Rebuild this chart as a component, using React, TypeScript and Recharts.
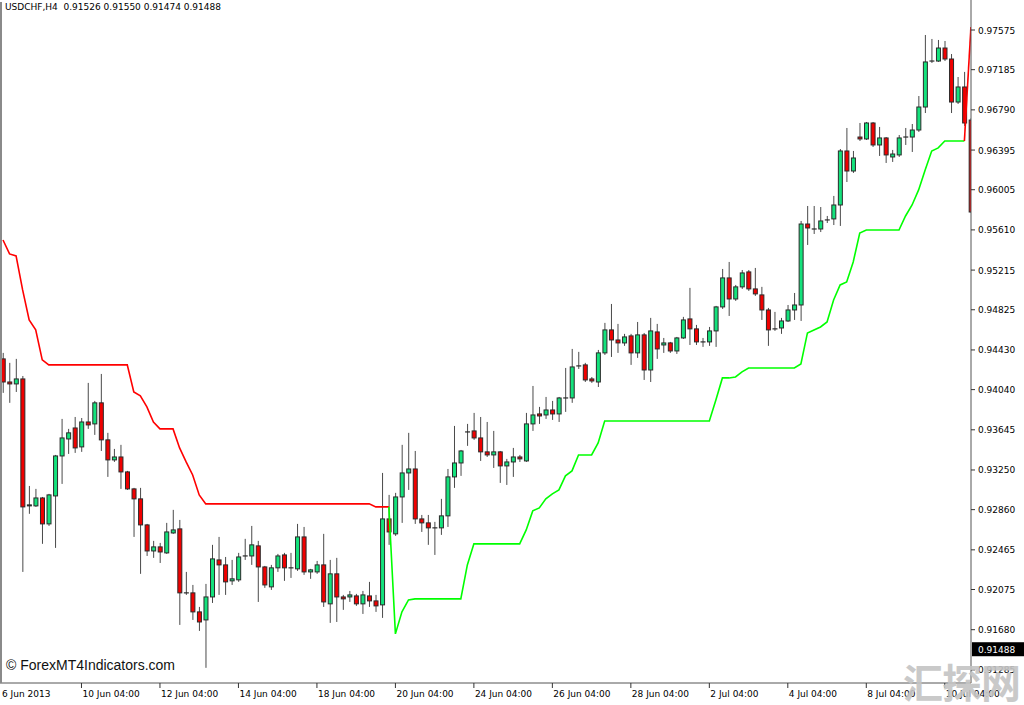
import React from 'react';
import { ComposedChart, Bar, Line, XAxis, YAxis, ReferenceLine } from 'recharts';

// ---- Data (USDCHF, H4) ----
const opens = [
  0.94342, 0.94115, 0.94096, 0.94145, 0.92897, 0.92897, 0.92975, 0.92720, 0.92995, 0.93388,
  0.93555, 0.93663, 0.93477, 0.93722, 0.93703, 0.93910, 0.93546, 0.93349, 0.93378, 0.93231,
  0.93064, 0.92966, 0.92710, 0.92454, 0.92494, 0.92435, 0.92631, 0.92671, 0.92042, 0.92042,
  0.91855, 0.91776, 0.92002, 0.92366, 0.92317, 0.92160, 0.92170, 0.92405, 0.92405, 0.92504,
  0.92297, 0.92101, 0.92288, 0.92415, 0.92288, 0.92278, 0.92592, 0.92248, 0.92248, 0.92317,
  0.91934, 0.92229, 0.92002, 0.92002, 0.92012, 0.91934, 0.92012, 0.91963, 0.91924, 0.92769,
  0.92622, 0.92985, 0.93221, 0.93260, 0.92769, 0.92730, 0.92681, 0.92681, 0.92799, 0.93182,
  0.93319, 0.93624, 0.93634, 0.93565, 0.93428, 0.93398, 0.93428, 0.93290, 0.93329, 0.93378,
  0.93339, 0.93703, 0.93801, 0.93791, 0.93840, 0.93801, 0.93958, 0.93958, 0.94273, 0.94283,
  0.94145, 0.94115, 0.94401, 0.94627, 0.94528, 0.94499, 0.94568, 0.94401, 0.94578, 0.94233,
  0.94607, 0.94479, 0.94499, 0.94420, 0.94548, 0.94735, 0.94637, 0.94509, 0.94509, 0.94617,
  0.94853, 0.95138, 0.94931, 0.95050, 0.95197, 0.95030, 0.94971, 0.94823, 0.94637, 0.94646,
  0.94715, 0.94823, 0.94872, 0.95668, 0.95619, 0.95619, 0.95708, 0.95718, 0.95855, 0.96386,
  0.96189, 0.96523, 0.96504, 0.96661, 0.96445, 0.96514, 0.96327, 0.96347, 0.96523, 0.96523,
  0.96592, 0.96818, 0.97270, 0.97270, 0.97398, 0.97290, 0.96867, 0.97015, 0.96690,
];
const highs = [
  0.94401, 0.94303, 0.94342, 0.94174, 0.93093, 0.93064, 0.92985, 0.93015, 0.93398, 0.93752,
  0.93654, 0.93771, 0.93761, 0.94106, 0.93929, 0.94194, 0.93615, 0.93457, 0.93497, 0.93241,
  0.93074, 0.93074, 0.92720, 0.92553, 0.92533, 0.92730, 0.92858, 0.92759, 0.92248, 0.92120,
  0.91904, 0.92130, 0.92514, 0.92592, 0.92395, 0.92366, 0.92435, 0.92573, 0.92700, 0.92553,
  0.92307, 0.92317, 0.92425, 0.92435, 0.92435, 0.92720, 0.92690, 0.92278, 0.92356, 0.92622,
  0.92366, 0.92386, 0.92022, 0.92061, 0.92032, 0.92061, 0.92150, 0.92022, 0.93221, 0.93005,
  0.93025, 0.93497, 0.93615, 0.93437, 0.92808, 0.92808, 0.92740, 0.92966, 0.93260, 0.93683,
  0.93447, 0.93703, 0.93811, 0.93771, 0.93722, 0.93634, 0.93437, 0.93359, 0.93467, 0.93398,
  0.93811, 0.94076, 0.93870, 0.93968, 0.93929, 0.93968, 0.94253, 0.94440, 0.94411, 0.94303,
  0.94164, 0.94430, 0.94696, 0.94882, 0.94686, 0.94588, 0.94588, 0.94705, 0.94597, 0.94745,
  0.94686, 0.94548, 0.94509, 0.94558, 0.94755, 0.95040, 0.94676, 0.94548, 0.94656, 0.94863,
  0.95226, 0.95295, 0.95069, 0.95216, 0.95216, 0.95236, 0.95050, 0.94843, 0.94804, 0.94745,
  0.94872, 0.94990, 0.95698, 0.95845, 0.95845, 0.95835, 0.95747, 0.95944, 0.96405, 0.96612,
  0.96386, 0.96661, 0.96671, 0.96671, 0.96622, 0.96523, 0.96396, 0.96543, 0.96612, 0.96651,
  0.96926, 0.97526, 0.97487, 0.97477, 0.97467, 0.97339, 0.97113, 0.97163, 0.96710,
];
const lows = [
  0.94008, 0.93910, 0.94017, 0.92248, 0.92819, 0.92887, 0.92524, 0.92700, 0.92484, 0.93113,
  0.93408, 0.93418, 0.93428, 0.93654, 0.93595, 0.93437, 0.93182, 0.93329, 0.93064, 0.93054,
  0.92592, 0.92229, 0.92405, 0.92386, 0.92336, 0.92425, 0.92622, 0.91727, 0.92022, 0.91776,
  0.91668, 0.91305, 0.91943, 0.92022, 0.92022, 0.92120, 0.92150, 0.92366, 0.92317, 0.91953,
  0.92091, 0.92071, 0.92248, 0.92160, 0.92189, 0.92258, 0.92219, 0.92180, 0.92229, 0.91904,
  0.91747, 0.91756, 0.91875, 0.91953, 0.91914, 0.91835, 0.91904, 0.91855, 0.91796, 0.92514,
  0.92602, 0.92730, 0.93054, 0.92720, 0.92641, 0.92514, 0.92415, 0.92612, 0.92690, 0.93074,
  0.93192, 0.93487, 0.93546, 0.93339, 0.93378, 0.93270, 0.93123, 0.93103, 0.93182, 0.93329,
  0.93329, 0.93634, 0.93703, 0.93752, 0.93742, 0.93722, 0.93821, 0.93910, 0.94243, 0.94115,
  0.94106, 0.94066, 0.94381, 0.94361, 0.94401, 0.94470, 0.94283, 0.94352, 0.94135, 0.94115,
  0.94342, 0.94401, 0.94401, 0.94391, 0.94538, 0.94479, 0.94479, 0.94460, 0.94470, 0.94460,
  0.94833, 0.94764, 0.94912, 0.95030, 0.95010, 0.94961, 0.94725, 0.94470, 0.94617, 0.94588,
  0.94705, 0.94725, 0.94715, 0.95462, 0.95570, 0.95589, 0.95678, 0.95658, 0.95649, 0.96081,
  0.96170, 0.96484, 0.96494, 0.96425, 0.96337, 0.96268, 0.96278, 0.96327, 0.96445, 0.96376,
  0.96573, 0.96759, 0.97251, 0.97261, 0.97270, 0.96759, 0.96848, 0.96632, 0.95776,
];
const closes = [
  0.94115, 0.94096, 0.94145, 0.92887, 0.92907, 0.92975, 0.92720, 0.93005, 0.93388, 0.93565,
  0.93615, 0.93467, 0.93722, 0.93693, 0.93910, 0.93546, 0.93349, 0.93378, 0.93231, 0.93064,
  0.92966, 0.92710, 0.92454, 0.92494, 0.92444, 0.92641, 0.92661, 0.92042, 0.92042, 0.91855,
  0.91756, 0.92002, 0.92376, 0.92317, 0.92150, 0.92180, 0.92395, 0.92405, 0.92514, 0.92297,
  0.92120, 0.92288, 0.92405, 0.92288, 0.92288, 0.92592, 0.92248, 0.92268, 0.92317, 0.91953,
  0.92229, 0.92002, 0.91983, 0.92022, 0.91934, 0.92022, 0.91963, 0.91914, 0.92769, 0.92641,
  0.92985, 0.93221, 0.93260, 0.92769, 0.92730, 0.92681, 0.92681, 0.92799, 0.93182, 0.93319,
  0.93437, 0.93624, 0.93565, 0.93428, 0.93398, 0.93428, 0.93290, 0.93329, 0.93378, 0.93359,
  0.93703, 0.93791, 0.93781, 0.93840, 0.93801, 0.93958, 0.93958, 0.94263, 0.94273, 0.94135,
  0.94125, 0.94401, 0.94627, 0.94528, 0.94499, 0.94558, 0.94401, 0.94578, 0.94233, 0.94617,
  0.94440, 0.94499, 0.94420, 0.94548, 0.94725, 0.94637, 0.94509, 0.94509, 0.94617, 0.94853,
  0.95138, 0.94931, 0.95050, 0.95187, 0.95030, 0.94981, 0.94823, 0.94627, 0.94637, 0.94715,
  0.94823, 0.94872, 0.95668, 0.95629, 0.95619, 0.95698, 0.95708, 0.95855, 0.96386, 0.96189,
  0.96317, 0.96504, 0.96661, 0.96445, 0.96514, 0.96347, 0.96356, 0.96514, 0.96523, 0.96592,
  0.96818, 0.97261, 0.97270, 0.97398, 0.97290, 0.96867, 0.97015, 0.96661, 0.95786,
];

// Trailing-stop indicator: red (down) from bar 0, green (up) from bar 59, red again from bar 147
const redStart = 0;
const redStop = [
  0.95511, 0.95374, 0.95354, 0.95020, 0.94725, 0.94627, 0.94332, 0.94283, 0.94283, 0.94283,
  0.94283, 0.94283, 0.94283, 0.94283, 0.94283, 0.94283, 0.94283, 0.94283, 0.94283, 0.94283,
  0.94017, 0.93978, 0.93870, 0.93722, 0.93654, 0.93654, 0.93654, 0.93467, 0.93329, 0.93201,
  0.93005, 0.92917, 0.92917, 0.92917, 0.92917, 0.92917, 0.92917, 0.92917, 0.92917, 0.92917,
  0.92917, 0.92917, 0.92917, 0.92917, 0.92917, 0.92917, 0.92917, 0.92917, 0.92917, 0.92917,
  0.92917, 0.92917, 0.92917, 0.92917, 0.92917, 0.92917, 0.92917, 0.92887, 0.92887, 0.92887,
];
const greenStart = 59;
const greenStop = [
  0.92887, 0.91639, 0.91855, 0.91973, 0.91983, 0.91983, 0.91983, 0.91983, 0.91983, 0.91983,
  0.91983, 0.91983, 0.92317, 0.92524, 0.92524, 0.92524, 0.92524, 0.92524, 0.92524, 0.92524,
  0.92524, 0.92661, 0.92848, 0.92877, 0.92966, 0.93015, 0.93054, 0.93192, 0.93241, 0.93398,
  0.93398, 0.93398, 0.93516, 0.93732, 0.93732, 0.93732, 0.93732, 0.93732, 0.93732, 0.93732,
  0.93732, 0.93732, 0.93732, 0.93732, 0.93732, 0.93732, 0.93732, 0.93732, 0.93732, 0.93732,
  0.93939, 0.94155, 0.94155, 0.94164, 0.94214, 0.94253, 0.94253, 0.94253, 0.94253, 0.94253,
  0.94253, 0.94253, 0.94253, 0.94293, 0.94597, 0.94627, 0.94656, 0.94705, 0.94921, 0.95069,
  0.95099, 0.95295, 0.95580, 0.95609, 0.95609, 0.95609, 0.95609, 0.95609, 0.95609, 0.95747,
  0.95855, 0.96003, 0.96199, 0.96386, 0.96416, 0.96484, 0.96484, 0.96484, 0.96484,
];
const red2Start = 147;
const red2Stop = [0.96484, 0.97605];

const xTickBars = [0, 12, 24, 36, 48, 60, 72, 84, 96, 108, 120, 132, 144];
const xTickLabels = [
  '6 Jun 2013', '10 Jun 04:00', '12 Jun 04:00', '14 Jun 04:00', '18 Jun 04:00', '20 Jun 04:00',
  '24 Jun 04:00', '26 Jun 04:00', '28 Jun 04:00', '2 Jul 04:00', '4 Jul 04:00', '8 Jul 04:00', '10 Jul 04:00',
];
const yTicks = [
  0.97575, 0.97185, 0.96790, 0.96395, 0.96005, 0.95610, 0.95215, 0.94825, 0.94430,
  0.94040, 0.93645, 0.93250, 0.92860, 0.92465, 0.92075, 0.91680, 0.91285,
];
const lastPrice = 0.91488;
const titleText = 'USDCHF,H4  0.91526 0.91550 0.91474 0.91488';

// ---- build table ----
const rows = opens.map((o, i) => {
  const ri = i - redStart;
  const gi = i - greenStart;
  const r2 = i - red2Start;
  return {
    i,
    o,
    h: highs[i],
    l: lows[i],
    c: closes[i],
    range: [lows[i], highs[i]],
    red: ri >= 0 && ri < redStop.length ? redStop[ri] : null,
    green: gi >= 0 && gi < greenStop.length ? greenStop[gi] : null,
    red2: r2 >= 0 && r2 < red2Stop.length ? red2Stop[r2] : null,
  };
});

const GREEN = '#14e27c';
const RED = '#f00000';
const OUTLINE = '#2a2a2a';
const WICK = '#4a4a4a';
const FONT = '"DejaVu Sans", Tahoma, sans-serif';

function Candle(props: any) {
  const { x, y, width, height, payload } = props;
  if (!payload || x == null) return null;
  const { o, h, l, c } = payload;
  const top = Math.min(y, y + height);
  const span = Math.abs(height);
  const k = h - l > 0 ? span / (h - l) : 0;
  const py = (v: number) => top + (h - v) * k;
  const cx = x + width / 2;
  const bodyTop = py(Math.max(o, c));
  const bodyBot = py(Math.min(o, c));
  const up = c > o;
  const down = c < o;
  return (
    <g>
      <line x1={cx} x2={cx} y1={top} y2={top + span} stroke={WICK} strokeWidth={1} />
      {up || down ? (
        <rect
          x={cx - 2}
          y={bodyTop}
          width={4}
          height={Math.max(bodyBot - bodyTop, 1)}
          fill={up ? GREEN : RED}
          stroke={OUTLINE}
          strokeWidth={1}
        />
      ) : (
        <line x1={cx - 2.5} x2={cx + 2.5} y1={bodyTop} y2={bodyTop} stroke={OUTLINE} strokeWidth={1.2} />
      )}
    </g>
  );
}

function XTick(props: any) {
  const { x, payload } = props;
  const idx = xTickBars.indexOf(payload.value);
  const label = idx >= 0 ? xTickLabels[idx] : '';
  return (
    <g>
      {idx > 0 && <line x1={x} x2={x} y1={683} y2={688} stroke="#333" strokeWidth={1} />}
      <text x={idx === 0 ? x - 1 : x + 1} y={697} fontSize={9} fontFamily={FONT} fill="#000" textAnchor="start">
        {label}
      </text>
    </g>
  );
}

function YTick(props: any) {
  const { y, payload } = props;
  return (
    <g>
      <line x1={971} x2={975} y1={y} y2={y} stroke="#333" strokeWidth={1} />
      <text x={978} y={y + 3.5} fontSize={9} fontFamily={FONT} fill="#000" textAnchor="start">
        {Number(payload.value).toFixed(5)}
      </text>
    </g>
  );
}

function PriceTag(props: any) {
  const vb = props.viewBox || {};
  const y = vb.y ?? 0;
  return (
    <g>
      <rect x={972} y={y - 7} width={52} height={14} fill="#000" />
      <text x={978} y={y + 3.5} fontSize={9} fontFamily={FONT} fill="#fff">
        {lastPrice.toFixed(5)}
      </text>
    </g>
  );
}

export default function App() {
  return (
    <div style={{ position: 'absolute', left: 0, top: 0, width: 1024, height: 705, background: '#fff', overflow: 'hidden' }}>
      <ComposedChart width={1024} height={705} data={rows} margin={{ top: 0, right: 0, bottom: 0, left: 0 }}>
        <XAxis
          dataKey="i"
          type="number"
          domain={[-0.459, 148.01]}
          allowDataOverflow
          ticks={xTickBars}
          interval={0}
          height={22}
          tickLine={false}
          axisLine={{ stroke: '#555' }}
          tick={<XTick />}
        />
        <YAxis
          orientation="right"
          type="number"
          domain={[0.91156, 0.9787]}
          allowDataOverflow
          ticks={yTicks}
          interval={0}
          width={53}
          tickLine={false}
          axisLine={{ stroke: '#555' }}
          tick={<YTick />}
        />
        <Bar dataKey="range" barSize={5} shape={<Candle />} isAnimationActive={false} />
        <Line dataKey="red" type="linear" stroke="#ff0000" strokeWidth={1.6} dot={false} activeDot={false} connectNulls={false} isAnimationActive={false} />
        <Line dataKey="green" type="linear" stroke="#00ff00" strokeWidth={1.6} dot={false} activeDot={false} connectNulls={false} isAnimationActive={false} />
        <Line dataKey="red2" type="linear" stroke="#ff0000" strokeWidth={1.6} dot={false} activeDot={false} connectNulls={false} isAnimationActive={false} />
        <ReferenceLine y={lastPrice} stroke="none" ifOverflow="visible" label={<PriceTag />} />
      </ComposedChart>
      <div style={{ position: 'absolute', left: 0, top: 2, width: 2, height: 681, background: '#8a8a8a' }} />
      <div style={{ position: 'absolute', left: 5, top: 1, fontFamily: FONT, fontSize: 9, color: '#000', whiteSpace: 'pre', lineHeight: '12px' }}>
        {titleText}
      </div>
      <div style={{ position: 'absolute', left: 6, top: 656, fontFamily: '"Liberation Sans", Arial, sans-serif', fontSize: 14, color: '#111', whiteSpace: 'pre', lineHeight: '18px' }}>
        © ForexMT4Indicators.com
      </div>
      <div style={{ position: 'absolute', left: 903, top: 656, fontFamily: '"Noto Sans CJK SC", sans-serif', fontWeight: 700, fontSize: 40, color: '#c4c4c4', opacity: 0.9, whiteSpace: 'pre', lineHeight: '50px', letterSpacing: -1 }}>
        汇探网
      </div>
    </div>
  );
}
